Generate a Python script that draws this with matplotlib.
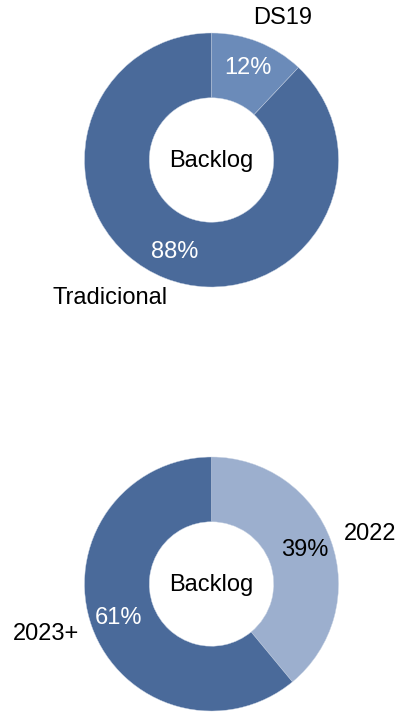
import matplotlib
matplotlib.use("Agg")
import matplotlib.pyplot as plt

plt.rcParams['font.family'] = ['Liberation Sans', 'DejaVu Sans']

# backlog por tipo
tipo_labels = ["DS19", "Tradicional"]
tipo_valores = [12, 88]
tipo_cores = ["#6B8BB9", "#4A6A9A"]

# backlog por ano
ano_labels = ["2022", "2023+"]
ano_valores = [39, 61]
ano_cores = ["#9CAFCE", "#4A6A9A"]

W, H = 414, 721
fig = plt.figure(figsize=(W / 100, H / 100), dpi=100)


def donut(cx, cy, r, valores, cores, pct_cores, labels, label_pos):
    ax = fig.add_axes([(cx - r) / W, (H - cy - r) / H, 2 * r / W, 2 * r / H])
    wedges, _, autotexts = ax.pie(
        valores, colors=cores, startangle=90, counterclock=False,
        radius=1.0, autopct="%d%%", pctdistance=0.78,
        wedgeprops=dict(width=0.51, edgecolor="#C8D3E4", linewidth=0.3),
        textprops=dict(fontsize=17),
    )
    for t, c in zip(autotexts, pct_cores):
        t.set_color(c)
    ax.text(0, -0.01, "Backlog", ha="center", va="center", fontsize=17)
    for lab, (x, y, ha) in zip(labels, label_pos):
        ax.text(x, y, lab, ha=ha, va="center", fontsize=17, clip_on=False)
    ax.set_xlim(-1, 1)
    ax.set_ylim(-1, 1)
    ax.set_aspect("equal")
    ax.axis("off")
    return ax


donut(211.5, 160, 127, tipo_valores, tipo_cores, ["white", "white"],
      tipo_labels, [(0.56, 1.12, "center"), (-0.80, -1.09, "center")])

donut(211.5, 584, 127, ano_valores, ano_cores, ["black", "white"],
      ano_labels, [(1.25, 0.39, "center"), (-1.30, -0.39, "center")])

fig.savefig("out.png", dpi=100, facecolor="white")
